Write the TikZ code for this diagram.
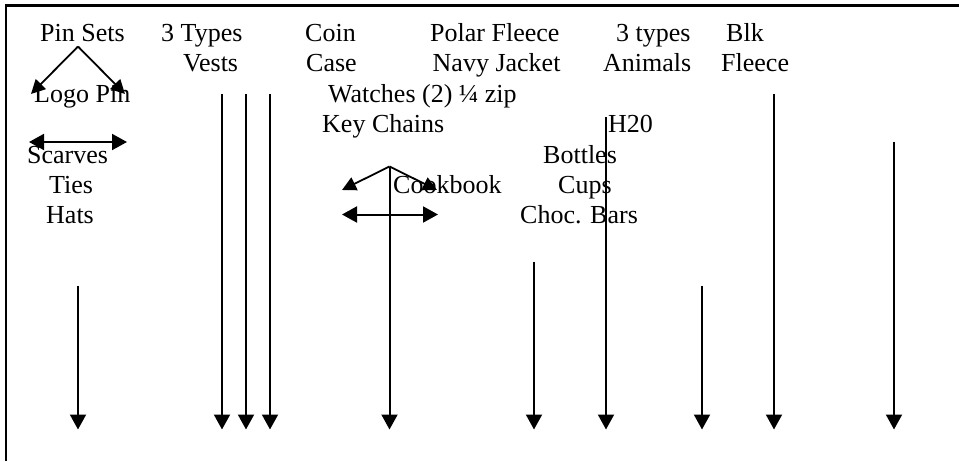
\documentclass[tikz,border=0pt]{standalone}
\usepackage{fontspec}
\setmainfont{Liberation Serif}
\usetikzlibrary{arrows.meta}
\begin{document}
\begin{tikzpicture}[x=1pt,y=-1pt,
  lbl/.style={anchor=base west,inner sep=0pt,font=\fontsize{26}{30}\selectfont},
  frameline/.style={line width=2.4pt},
  conn/.style={line width=2pt,-{Triangle[width=16pt,length=15pt]}},
  dconn/.style={line width=2pt,{Triangle[width=16pt,length=15pt]}-{Triangle[width=16pt,length=15pt]}},
  sconn/.style={line width=1.8pt,-{Triangle[width=14pt,length=14pt]}}]
\useasboundingbox (0,0) rectangle (959,461);
% frame (top and left edges)
\coordinate (fTL) at (6,5.5);
\coordinate (fTR) at (959,5.5);
\coordinate (fBL) at (6,461);
\draw[frameline] (fTR) -- (fTL) -- (fBL);

% labels
\node[lbl] (pinsets) at (40,41) {Pin Sets};
\node[lbl] (types3) at (161,41) {3 Types};
\node[lbl] (vests) at (183,71.5) {Vests};
\node[lbl] (coin) at (305,41) {Coin};
\node[lbl] (case) at (306,71.5) {Case};
\node[lbl] (polar) at (430,41) {Polar Fleece};
\node[lbl] (navy) at (432.5,71.5) {Navy Jacket};
\node[lbl] (types3b) at (616,41) {3 types};
\node[lbl] (animals) at (603,71.5) {Animals};
\node[lbl] (blk) at (726,41) {Blk};
\node[lbl] (fleece) at (721,71.5) {Fleece};
\node[lbl] (logopin) at (34,102) {Logo Pin};
\node[lbl] (watches) at (328,102) {Watches (2) ¼ zip};
\node[lbl] (keychains) at (322,132) {Key Chains};
\node[lbl] (h20) at (608,132) {H20};
\node[lbl] (scarves) at (27,163) {Scarves};
\node[lbl] (bottles) at (543,163) {Bottles};
\node[lbl] (ties) at (49,193) {Ties};
\node[lbl] (cookbook) at (393,193) {Cookbook};
\node[lbl] (cups) at (558,193) {Cups};
\node[lbl] (hats) at (46,223) {Hats};
\node[lbl] (choc) at (520,223) {Choc. Bars};

% split arrows under Pin Sets
\coordinate (pinApex) at (78,46.5);
\coordinate (pinL) at (31,94);
\coordinate (pinR) at (125,94);
\draw[sconn] (pinApex) -- (pinL);
\draw[sconn] (pinApex) -- (pinR);
% two-way arrow above Scarves
\coordinate (scL) at (29,142);
\coordinate (scR) at (127,142);
\draw[dconn] (scL) -- (scR);

% split arrows and two-way arrow beside Cookbook
\coordinate (ckApex) at (389.5,166.5);
\coordinate (ckL) at (342,190);
\coordinate (ckR) at (437,190);
\draw[sconn] (ckApex) -- (ckL);
\draw[sconn] (ckApex) -- (ckR);
\coordinate (ckdL) at (342,214.5);
\coordinate (ckdR) at (438,214.5);
\draw[dconn] (ckdL) -- (ckdR);

% downward arrows
\foreach \n/\x/\y in {a/78/285.5, b/222/94, c/246/94, d/270/94, e/389.5/166.5,
                      f/534/261.5, g/606/117, h/702/285.5, i/774/94, j/894/141.5}{
  \coordinate (top\n) at (\x,\y);
  \coordinate (bot\n) at (\x,429.5);
  \draw[conn] (top\n) -- (bot\n);
}
\end{tikzpicture}
\end{document}
